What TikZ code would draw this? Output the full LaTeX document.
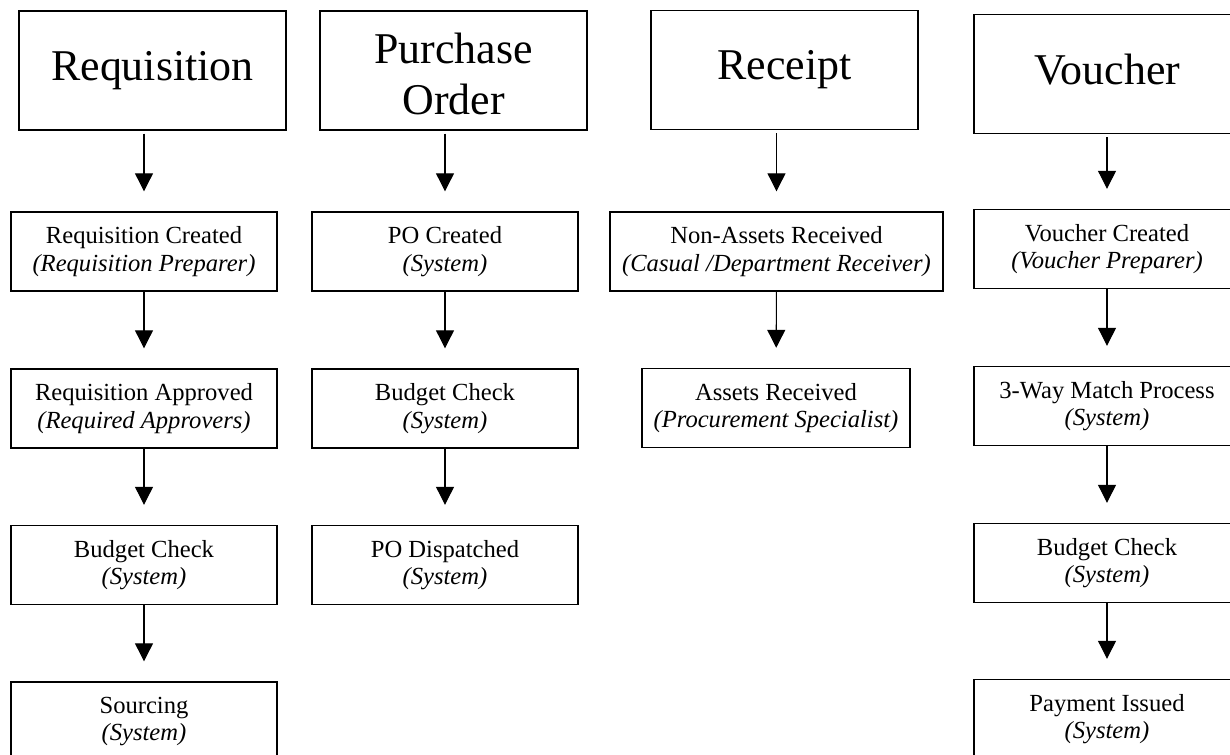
\documentclass[tikz,border=0pt]{standalone}
\usepackage{fontspec}
\setmainfont{Liberation Serif}
\usetikzlibrary{arrows.meta}
\begin{document}
\begin{tikzpicture}[x=0.02cm,y=-0.02cm,
    head/.style={draw=black,line width=0.8pt,minimum width=5.34cm,minimum height=2.38cm,inner sep=2pt,align=center,font=\fontsize{25}{29.5}\selectfont},
    task/.style={draw=black,line width=0.8pt,minimum width=5.32cm,minimum height=1.58cm,inner sep=2pt,align=center,font=\fontsize{14}{15.5}\selectfont},
    flow/.style={line width=0.6pt,-{Triangle[width=0.36cm,length=0.36cm]},shorten >=0.4cm}]
            \useasboundingbox (0,0) rectangle (1230,754);
            \clip (0,0) rectangle (1230,754);

            \node[head] (req) at (152.5,70.5) {Requisition};
            \node[head] (po) at (453.5,70.5) {};
            \node[align=center,font=\fontsize{25}{29.5}\selectfont] (potext) at (453.5,74) {Purchase\\Order};
            \node[head] (rcpt) at (784.5,70) {Receipt};
            \node[head] (vch) at (1107.5,74) {Voucher\vphantom{q}};

            \node[task] (reqcreated) at (144,251.5) {Requisition Created\\\textit{(Requisition Preparer)}};
            \node[task] (reqapproved) at (144,408.5) {Requisition Approved\\\textit{(Required Approvers)}};
            \node[task] (reqbudget) at (144,565) {Budget Check\\\textit{(System)}};
            \node[task] (sourcing) at (144,721.5) {Sourcing\\\textit{(System)}};

            \node[task] (pocreated) at (445,251.5) {PO Created\\\textit{(System)}};
            \node[task] (pobudget) at (445,408.5) {Budget Check\\\textit{(System)}};
            \node[task] (podispatched) at (445,565) {PO Dispatched\\\textit{(System)}};

            \node[task,minimum width=6.66cm] (nonassets) at (776.5,251.5) {Non-Assets Received\\\textit{(Casual /Department Receiver)}};
            \node[task,minimum width=5.36cm] (assets) at (776,408) {Assets Received\\\textit{(Procurement Specialist)}};

            \node[task] (vchcreated) at (1107,249) {Voucher Created\\\textit{(Voucher Preparer)}};
            \node[task] (match) at (1107,406) {3-Way Match Process\\\textit{(System)}};
            \node[task] (vchbudget) at (1107,563) {Budget Check\\\textit{(System)}};
            \node[task] (payment) at (1107,719) {Payment Issued\\\textit{(System)}};

            \draw[flow,shorten <=0.06cm] (req.south -| reqcreated) -- (reqcreated);
            \draw[flow] (reqcreated) -- (reqapproved);
            \draw[flow] (reqapproved) -- (reqbudget);
            \draw[flow] (reqbudget) -- (sourcing);

            \draw[flow,shorten <=0.06cm] (po.south -| pocreated) -- (pocreated);
            \draw[flow] (pocreated) -- (pobudget);
            \draw[flow] (pobudget) -- (podispatched);

            \draw[flow,shorten <=0.06cm] (rcpt.south -| nonassets) -- (nonassets);
            \draw[flow] (nonassets) -- (assets);

            \draw[flow,shorten <=0.06cm] (vch.south -| vchcreated) -- (vchcreated);
            \draw[flow] (vchcreated) -- (match);
            \draw[flow] (match) -- (vchbudget);
            \draw[flow] (vchbudget) -- (payment);
\end{tikzpicture}
\end{document}
